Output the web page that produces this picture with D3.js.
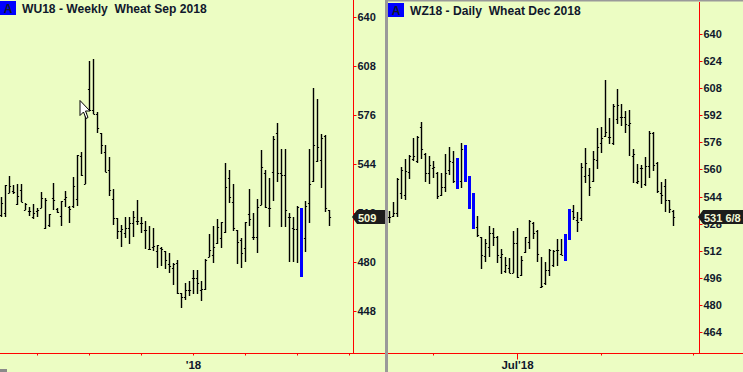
<!DOCTYPE html>
<html>
<head>
<meta charset="utf-8">
<script src="https://cdn.jsdelivr.net/npm/d3@7"></script>
<style>
  html, body { margin: 0; padding: 0; background: #ecfdc3; overflow: hidden; }
  svg { display: block; }
  text { font-family: "Liberation Sans", Arial, sans-serif; font-weight: 700; fill: #10182c; }
</style>
</head>
<body>
<div id="chart"></div>
<script>
// WEEKLY WHEAT SEP 2018 (left panel), prices in cents
const weeklyHigh = [522.3,529.9,535.8,529.9,530.4,530.4,518,515.8,517.5,514.7,525.4,521.7,511,531.5,515.1,519.5,526,516.2,535.4,549.6,551.7,577.9,611,612.3,577.9,563.7,556.1,548,527.1,508.4,504.2,508.8,508.8,512.9,520.1,509.2,506.4,503.1,502,490.9,489.4,487.2,485.5,479,481.3,459.3,465.9,467.6,474.2,474.2,467.2,481.6,498,503.2,507.8,506,544.6,539.8,530.7,500.6,495.1,505.8,527.4,511.9,520.6,552.9,539.8,534.4,562,570.3,553.5,553.5,511.9,508.9,516.3,515,519.5,553.5,593.2,586.2,563.1,562.7,513.7];
const weeklyLow = [509.2,509.2,524.5,524.1,517.1,519,513.6,509.7,507.5,509.2,514.7,501.4,502.3,513.6,511.9,503.4,515.8,505.3,515.1,516.4,536,530.4,579,576.4,563.7,550.6,538.2,523,504.2,494.4,489.6,495.7,491.4,496.2,503.8,498.8,488.3,487.5,487,475.7,477.4,475.2,472.6,464.8,458.9,449.8,454.6,457.4,458.9,458.9,454.2,461.3,482.7,479.2,491.4,488.6,498.4,518,500.2,478.4,475.5,479.9,503.4,494,485.3,516.9,514.8,502.3,519.8,532.2,502.8,502.8,479.5,479.5,479.2,470.1,486.4,504.9,532.1,545.2,527.8,512.6,503.2];
const weeklyOpen = [510.1,511.9,524.5,526,517.3,526.5,514,513,508.8,513,514.9,501.8,504.2,521.7,514.3,509.7,520.8,515.8,516.2,520.6,548.9,530.4,592.5,579,576.4,563.7,551.3,539.8,520.6,508.4,500.1,498.8,501.6,505.5,506.6,504.9,500.5,487.9,489.2,487.2,489,487.2,478.1,475.7,479,459.3,457.1,461.1,469,469,461.3,461.9,482.7,484,491.9,495.1,499.5,534.4,519.1,500.6,494,488.6,510.8,495.8,495.8,516.9,537.6,514.8,538.7,563.8,537.6,536.5,509.3,501.7,501,null,495.1,518.5,532.8,545.9,546.3,562,513.7];
const weeklyClose = [518,529.9,529.3,525.2,523,519,517.5,513,511.4,514,521.2,520.1,510.8,520.1,512.5,519.3,521.9,514.3,529.3,549.3,536.5,577,579,576.4,567,556.1,538.7,526.7,508.4,500.1,501,501.6,505.5,509.2,506.6,505.3,500.5,488.5,490.3,490.5,487.9,480.7,476.8,478.5,459.6,457.1,461.1,461.1,469,465.9,462,481,487.5,489.3,502.3,506,528.5,522,501.7,492.5,485.3,505.8,507.6,495.8,515.4,541.6,515.4,514.8,559.9,537.6,536.5,513.7,509.3,501.2,515.4,null,516.3,530.7,556.1,554.6,560.5,514.8,509];
const weeklyMarked = [75];
const weeklyTicks = [9, 22, 35, 48, 61, 74, 87];
const weeklyTickLabels = {48: "'18"};
const weeklyPrices = [640, 608, 576, 544, 512, 480, 448];

// DAILY WHEAT DEC 2018 (right panel)
const dailyHigh = [535.6,541,554.7,561.6,566.2,568.5,578.4,579.7,588,569.9,567.9,564.8,558.5,557.7,569.1,573.1,571.1,566.8,575.4,574.4,556.1,546.1,532.5,520.3,518.7,526.6,525.2,520.7,512.8,508.5,507.5,523.6,525.2,508.9,520.3,530.1,528.8,524.2,508.1,505.5,512.8,512.4,518.9,518.9,522,536.6,539,534.6,564,572.4,560.6,570.9,584.2,584.8,612.8,590.2,598.6,607.5,598.6,594.5,595.1,571.8,563.2,562.6,567.1,582.7,581.9,564.2,552.7,554.3,541.9,536];
const dailyLow = [528.6,531.7,532.1,542.7,541.9,554.2,565.2,564,566.2,552.8,551.4,554.7,542.7,544.5,546.9,556.7,552.2,548.4,548.8,552.6,536.6,524.8,520.3,501.4,505.5,508.5,514.8,504.9,498,499,498.6,498.6,495.9,497,510.8,512.8,518.7,505.5,489.8,491.7,497,502.6,503,509.5,505.9,518.3,530.1,523.2,529.7,551.8,544.5,552.7,560.2,569.5,578.9,575,574.4,586.6,585.6,581.7,567.9,551.8,551.4,548.8,550.2,554.7,559.2,546.2,539.6,535,534,526.8];
const dailyOpen = [531.7,532.5,534.5,545.9,544.9,558.7,566,565.2,584.9,569.1,557.7,560.6,558.1,544.9,549.4,559.7,564.6,null,553,null,null,null,526.2,520.3,509.1,514.4,522.6,520.3,508.5,500.2,501.6,499,516.7,497.4,511,517.3,528.2,523.8,490.3,492.7,500.6,503.5,512.2,510.2,null,null,535.6,530.1,531.1,556.1,556.7,553.1,565.5,575.4,579.7,579.3,575.4,589.6,591.1,590.7,586.2,567.9,552.7,560.6,551.4,562,581.3,564,545.8,550.2,541.9,535.6];
const dailyClose = [531.7,534.5,554.3,559.7,559.3,568.1,567.9,579,571.9,557.7,562.6,561.2,544.3,549.4,557.7,565.2,553.4,null,571.9,null,null,null,521.3,509.5,516.3,522.6,520.3,509.5,510,503.5,499,516.3,496.7,506.5,519.9,529.7,522.3,510,491,500.6,512.4,511.8,512.2,509.7,null,null,532.1,529.1,561.2,564,549.4,566,573,578.3,582.3,578.9,597.4,598,590.7,586.6,587.2,569.1,553.1,560.6,562,581.7,562.6,547.4,544.9,541.9,536.4,531.75];
const dailyMarked = [17, 19, 20, 21, 44, 45];
const dailyTicks = [11, 32, 53, 76];
const dailyTickLabels = {32: "Jul'18"};
const dailyPrices = [640, 624, 608, 592, 576, 560, 544, 528, 512, 496, 480, 464];

// DIMENSIONS
const width = 743;
const height = 372;
const baselineY = 353;
const red = "#ff0000";
const blue = "#0000ff";
const bgColor = "#ecfdc3";

const svg = d3.select("#chart")
  .append("svg")
    .attr("width", width)
    .attr("height", height);

svg.append("rect")
  .attr("width", width)
  .attr("height", height)
  .attr("fill", bgColor);

const drawPanel = (p) => {

  const bars = d3.range(p.high.length).map(i => ({
    i: i,
    high: p.high[i],
    low: p.low[i],
    open: p.open[i],
    close: p.close[i],
    marked: p.marked.includes(i)
  }));

  // SCALES
  const xScale = d3.scaleLinear()
    .domain([0, bars.length - 1])
    .range(p.xRange);

  const yScale = d3.scaleLinear()
    .domain(p.yDomain)
    .range(p.yRange)
    .interpolate(d3.interpolateRound); // chart snaps to whole pixels

  const g = svg.append("g").attr("id", p.id);

  // AXIS LINES
  g.append("line")
    .attr("x1", p.left).attr("x2", p.right)
    .attr("y1", baselineY + 0.5).attr("y2", baselineY + 0.5)
    .attr("stroke", red);

  g.append("line")
    .attr("x1", p.axisX + 0.5).attr("x2", p.axisX + 0.5)
    .attr("y1", p.axisTop).attr("y2", baselineY)
    .attr("stroke", red);

  // PRICE AXIS
  const yAxis = d3.axisRight(yScale)
    .tickValues(p.prices)
    .tickSize(3)
    .tickPadding(1)
    .tickSizeOuter(0)
    .offset(0.5);

  const yG = g.append("g")
    .attr("transform", `translate(${p.axisX + 0.5}, 0)`)
    .call(yAxis);
  yG.select(".domain").remove();
  yG.selectAll("line").attr("stroke", red);
  yG.selectAll("text")
    .attr("font-size", 11)
    .attr("font-family", null)
    .attr("fill", null);

  // TIME AXIS
  const xAxis = d3.axisBottom(xScale)
    .tickValues(p.ticks)
    .tickSize(2)
    .tickSizeOuter(0)
    .offset(0)
    .tickFormat(d => p.tickLabels[d] || "");

  const xG = g.append("g")
    .attr("transform", `translate(0, ${baselineY + 0.5})`)
    .call(xAxis);
  xG.select(".domain").remove();
  xG.selectAll("line")
    .attr("stroke", red)
    .attr("y2", d => p.longTicks.includes(d) ? 6 : 2);
  xG.selectAll("text")
    .attr("font-size", 11.5)
    .attr("font-family", null)
    .attr("fill", null)
    .attr("y", 15.5)
    .attr("dy", 0);

  // PRICE BARS
  const barG = g.append("g").attr("class", "bars");

  barG.selectAll(".hl")
    .data(bars)
    .join("line")
      .attr("class", "hl")
      .attr("x1", d => xScale(d.i))
      .attr("x2", d => xScale(d.i))
      .attr("y1", d => yScale(d.high))
      .attr("y2", d => yScale(d.low))
      .attr("stroke", d => d.marked ? blue : "#000")
      .attr("stroke-width", d => d.marked ? 3 : 1.4);

  const unmarked = bars.filter(d => !d.marked);

  barG.selectAll(".open")
    .data(unmarked)
    .join("line")
      .attr("class", "open")
      .attr("x1", d => xScale(d.i) - 1.6)
      .attr("x2", d => xScale(d.i))
      .attr("y1", d => yScale(d.open) + 0.5)
      .attr("y2", d => yScale(d.open) + 0.5)
      .attr("stroke", "#000");

  barG.selectAll(".close")
    .data(unmarked)
    .join("line")
      .attr("class", "close")
      .attr("x1", d => xScale(d.i))
      .attr("x2", d => xScale(d.i) + 1.6)
      .attr("y1", d => yScale(d.close) + 0.5)
      .attr("y2", d => yScale(d.close) + 0.5)
      .attr("stroke", "#000");

  // LAST PRICE BADGE
  const lastY = yScale(p.close[p.close.length - 1]);
  const badgeX = p.axisX;
  g.append("path")
    .attr("d", `M${badgeX - 1},${lastY} L${badgeX + 4},${lastY - 7} H${p.badgeRight} V${lastY + 7} H${badgeX + 4} Z`)
    .attr("fill", "#1c1c1c");
  g.append("text")
    .attr("x", p.axisX + 5)
    .attr("y", lastY + 4.5)
    .attr("font-size", 11)
    .style("fill", "#f4f8d8")
    .text(p.lastLabel);

  // TITLE AND BADGE
  g.append("rect")
    .attr("x", p.titleBox[0]).attr("y", p.titleBox[1])
    .attr("width", 16).attr("height", 14)
    .attr("fill", blue);
  g.append("text")
    .attr("x", p.titleBox[0] + 8)
    .attr("y", p.titleBox[1] + 12)
    .attr("text-anchor", "middle")
    .attr("font-size", 12)
    .text("A");
  g.append("text")
    .attr("x", p.titleBox[0] + 22)
    .attr("y", p.titleBox[1] + 12)
    .attr("font-size", 12.1)
    .style("white-space", "pre")
    .text(p.title);
};

drawPanel({
  id: "weekly",
  high: weeklyHigh, low: weeklyLow, open: weeklyOpen, close: weeklyClose,
  marked: weeklyMarked, ticks: weeklyTicks, tickLabels: weeklyTickLabels, longTicks: [],
  prices: weeklyPrices,
  xRange: [1.5, 329.5], yDomain: [640, 448], yRange: [16.7, 310.5],
  left: 0, right: 385, axisX: 353, axisTop: 0, badgeRight: 385,
  lastLabel: "509",
  titleBox: [0, 1],
  title: "WU18 - Weekly  Wheat Sep 2018"
});

drawPanel({
  id: "daily",
  high: dailyHigh, low: dailyLow, open: dailyOpen, close: dailyClose,
  marked: dailyMarked, ticks: dailyTicks, tickLabels: dailyTickLabels, longTicks: [32],
  prices: dailyPrices,
  xRange: [389.5, 673.5], yDomain: [640, 464], yRange: [34, 332],
  left: 388, right: 743, axisX: 699, axisTop: 2, badgeRight: 743,
  lastLabel: "531 6/8",
  titleBox: [388, 3],
  title: "WZ18 - Daily  Wheat Dec 2018"
});

// WINDOW FRAME BETWEEN PANELS
svg.append("rect").attr("x", 385).attr("y", 0).attr("width", 3).attr("height", height).attr("fill", "#9a9a9a");
svg.append("rect").attr("x", 385).attr("y", 0).attr("width", width - 385).attr("height", 1.5).attr("fill", "#9a9a9a");
svg.append("rect").attr("x", 0).attr("y", height - 3).attr("width", 7).attr("height", 3).attr("fill", "#8a8a8a");

// MOUSE POINTER LEFT IN THE SCREENSHOT
svg.append("path")
  .attr("d", "M80,100.5 V115.5 L83.5,112 L86,118.5 L88,117.5 L85.5,111 H90 Z")
  .attr("fill", "#fff")
  .attr("stroke", "#000")
  .attr("stroke-width", 1);
</script>
</body>
</html>
